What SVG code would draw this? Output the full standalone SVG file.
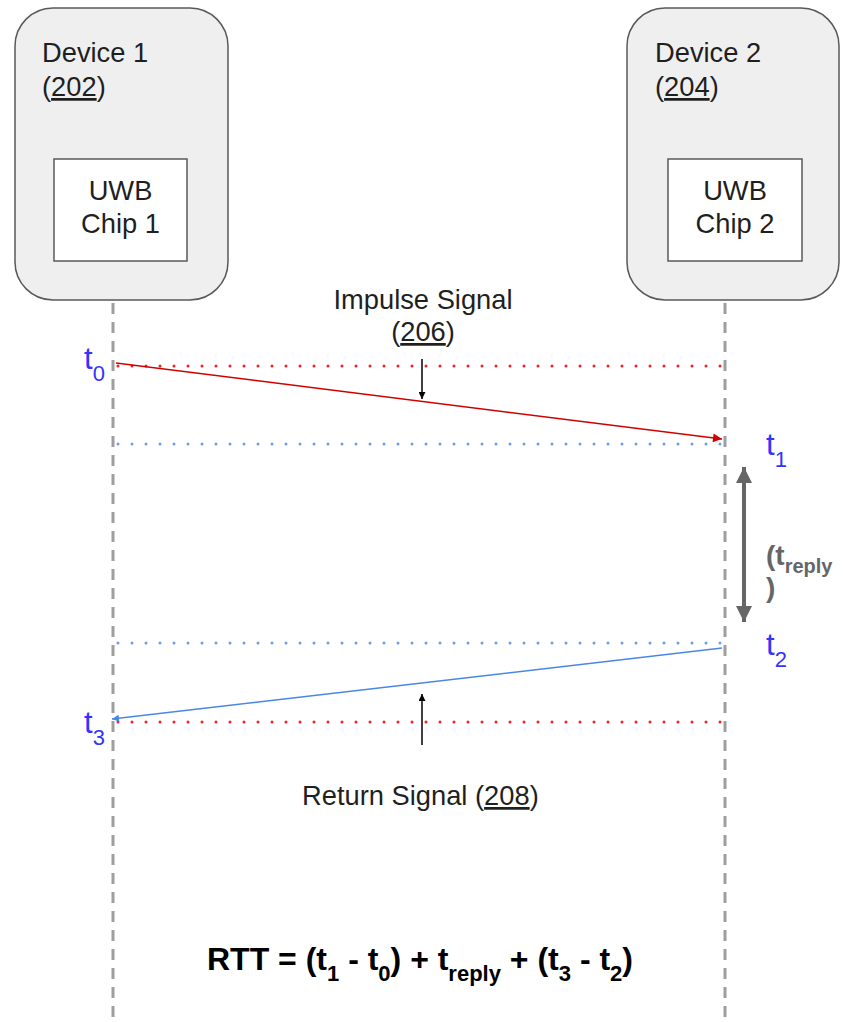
<svg xmlns="http://www.w3.org/2000/svg" width="843" height="1022" viewBox="0 0 843 1022">
<style>
.dev{fill:#efefef;stroke:#595959;stroke-width:1.5}
.chip{fill:#ffffff;stroke:#595959;stroke-width:1.5}
.txt{font-family:"Liberation Sans",Arial,sans-serif;font-size:27.3px;fill:#1f1f1f}
.tl{font-family:"Liberation Sans",Arial,sans-serif;font-size:31px;fill:#3333ff}
.sub{font-size:22px}
.life{stroke:#9e9e9e;stroke-width:3;stroke-dasharray:11 8;fill:none}
.rdot{stroke:#ee2020;stroke-width:3;stroke-dasharray:0 14;stroke-linecap:round;fill:none}
.bdot{stroke:#6d9eeb;stroke-width:3;stroke-dasharray:0 14;stroke-linecap:round;fill:none}
.u{text-decoration:underline}
</style>
<defs>
<marker id="ahRed" viewBox="0 0 10 10" refX="10" refY="5" markerWidth="12" markerHeight="9" markerUnits="userSpaceOnUse" orient="auto"><path d="M0,0 L10,5 L0,10 z" fill="#d00000"/></marker>
<marker id="ahBlue" viewBox="0 0 10 10" refX="10" refY="5" markerWidth="8" markerHeight="7" markerUnits="userSpaceOnUse" orient="auto"><path d="M0,0 L10,5 L0,10 z" fill="#4a86e8"/></marker>
<marker id="ahBlack" viewBox="0 0 10 10" refX="10" refY="5" markerWidth="9" markerHeight="7" markerUnits="userSpaceOnUse" orient="auto"><path d="M0,0 L10,5 L0,10 z" fill="#000"/></marker>
<marker id="ahGray" viewBox="0 0 10 10" refX="10" refY="5" markerWidth="20" markerHeight="16" markerUnits="userSpaceOnUse" orient="auto"><path d="M0,0 L10,5 L0,10 z" fill="#666666"/></marker>
</defs>
<g id="device1">
<rect class="dev" x="15" y="8" width="213" height="292" rx="38"/>
<text class="txt" x="42" y="62">Device 1</text>
<text class="txt" x="42" y="96">(<tspan class="u">202</tspan>)</text>
</g>
<g id="chip1">
<rect class="chip" x="54" y="159" width="133" height="102"/>
<text class="txt" x="120.5" y="200" text-anchor="middle">UWB</text>
<text class="txt" x="120.5" y="233" text-anchor="middle">Chip 1</text>
</g>
<g id="device2">
<rect class="dev" x="627" y="8" width="212" height="292" rx="38"/>
<text class="txt" x="655" y="62">Device 2</text>
<text class="txt" x="655" y="96">(<tspan class="u">204</tspan>)</text>
</g>
<g id="chip2">
<rect class="chip" x="668" y="159" width="134" height="102"/>
<text class="txt" x="735" y="200" text-anchor="middle">UWB</text>
<text class="txt" x="735" y="233" text-anchor="middle">Chip 2</text>
</g>
<g id="connectors">
<line class="life" x1="113" y1="303" x2="113" y2="1022"/>
<line class="life" x1="725" y1="303" x2="725" y2="1022"/>
<line class="rdot" x1="118" y1="366" x2="722" y2="366"/>
<line class="bdot" x1="118" y1="444" x2="722" y2="444"/>
<line class="bdot" x1="118" y1="643" x2="722" y2="643"/>
<line class="rdot" x1="118" y1="722" x2="722" y2="722"/>
<line x1="116" y1="363" x2="722" y2="439" stroke="#d00000" stroke-width="1.5" marker-end="url(#ahRed)"/>
<line x1="722" y1="648" x2="112" y2="719" stroke="#4a86e8" stroke-width="1.5" marker-end="url(#ahBlue)"/>
<line x1="422" y1="359" x2="422" y2="399" stroke="#000" stroke-width="1.5" marker-end="url(#ahBlack)"/>
<line x1="422" y1="745" x2="422" y2="694" stroke="#000" stroke-width="1.5" marker-end="url(#ahBlack)"/>
<line x1="744" y1="487" x2="744" y2="602" stroke="#666666" stroke-width="4"/>
<line x1="744" y1="500" x2="744" y2="467" stroke="#666666" stroke-width="4" marker-end="url(#ahGray)"/>
<line x1="744" y1="590" x2="744" y2="622" stroke="#666666" stroke-width="4" marker-end="url(#ahGray)"/>
</g>
<g id="labels">
<text class="txt" x="423" y="309" text-anchor="middle">Impulse Signal</text>
<text class="txt" x="423" y="341" text-anchor="middle">(<tspan class="u">206</tspan>)</text>
<text class="txt" x="302" y="805">Return Signal (<tspan class="u">208</tspan>)</text>
<text class="tl" x="84" y="369">t<tspan class="sub" dy="12">0</tspan></text>
<text class="tl" x="766" y="455">t<tspan class="sub" dy="12">1</tspan></text>
<text class="tl" x="766" y="655">t<tspan class="sub" dy="12">2</tspan></text>
<text class="tl" x="84" y="733">t<tspan class="sub" dy="12">3</tspan></text>
<text x="766" y="565" font-family="'Liberation Sans',Arial,sans-serif" font-size="28" font-weight="bold" fill="#666666">(t<tspan dy="8" font-size="20">reply</tspan></text>
<text x="766" y="597" font-family="'Liberation Sans',Arial,sans-serif" font-size="28" font-weight="bold" fill="#666666">)</text>
<text x="207" y="970" font-family="'Liberation Sans',Arial,sans-serif" font-size="32" font-weight="bold" fill="#000">RTT = (t<tspan dy="11" font-size="22">1</tspan><tspan dy="-11"> - t</tspan><tspan dy="11" font-size="22">0</tspan><tspan dy="-11">) + t</tspan><tspan dy="11" font-size="22">reply</tspan><tspan dy="-11"> + (t</tspan><tspan dy="11" font-size="22">3</tspan><tspan dy="-11"> - t</tspan><tspan dy="11" font-size="22">2</tspan><tspan dy="-11">)</tspan></text>
</g>
</svg>
